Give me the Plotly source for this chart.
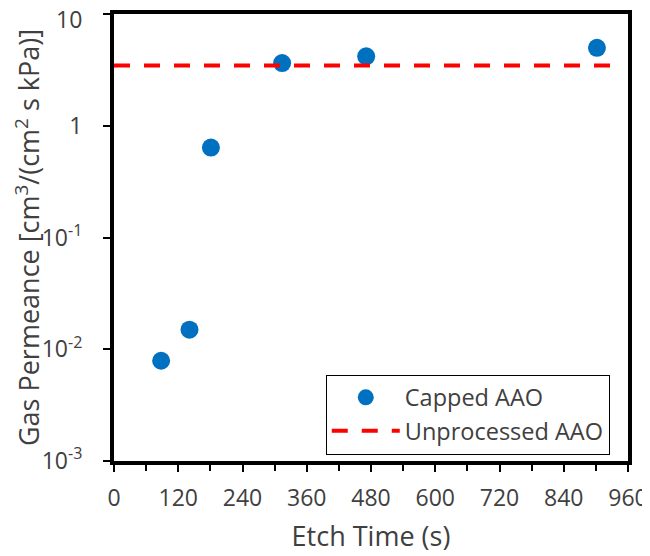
import plotly.graph_objects as go

etch_time = [88, 141, 181, 314, 471, 902]
permeance = [0.0079, 0.0150, 0.64, 3.65, 4.2, 5.0]
unprocessed_x = [0, 940]
unprocessed_y = [3.47, 3.47]

x_ticks = [0, 120, 240, 360, 480, 600, 720, 840, 960]
y_tickvals = [0.001, 0.01, 0.1, 1, 10]
y_ticktext = ["10<sup>-3</sup>", "10<sup>-2</sup>", "10<sup>-1</sup>", "1", "10"]

font_family = "Open Sans, sans-serif"
txt = "#404040"

fig = go.Figure()
fig.add_trace(go.Scatter(
    x=etch_time, y=permeance, mode="markers", name="Capped AAO",
    marker=dict(color="#0070C0", size=18, line=dict(width=0)),
))
fig.add_trace(go.Scatter(
    x=unprocessed_x, y=unprocessed_y, mode="lines", name="Unprocessed AAO",
    line=dict(color="#FF0000", width=4, dash="16px,14px"),
))

# top tick label would be clipped at the page edge: draw it as an annotation
# nudged slightly down, and leave the axis label for it empty
axis_ticktext = y_ticktext[:-1] + [""]
fig.add_annotation(
    x=0, xref="paper", xanchor="right", xshift=-30,
    y=1, yref="y", yanchor="middle", yshift=-5,
    text=y_ticktext[-1], showarrow=False,
    font=dict(family="Open Sans, sans-serif", size=23, color=txt),
)

# page body has an 8px default margin, so the figure is 8px smaller
fig.update_layout(
    width=642, height=548,
    margin=dict(l=106, r=22, t=6, b=95),
    paper_bgcolor="white", plot_bgcolor="white",
    font=dict(family=font_family, size=23, color=txt),
    showlegend=True,
    legend=dict(
        x=0.412, y=0.0145, xanchor="left", yanchor="bottom",
        bgcolor="white", bordercolor="black", borderwidth=1,
        font=dict(size=23.5, color=txt), tracegroupgap=0,
        itemwidth=68,
    ),
)
fig.update_xaxes(
    range=[0, 960], tickvals=x_ticks, automargin=False,
    title=dict(text="Etch Time (s)", font=dict(size=27, color=txt), standoff=17),
    showline=True, linecolor="black", linewidth=4, mirror=True,
    ticks="outside", ticklen=7, tickwidth=2, tickcolor="black",
    ticklabelstandoff=6, ticklabeloverflow="allow",
    minor=dict(dtick=60, tick0=0, ticks="outside", ticklen=6, tickwidth=2, tickcolor="black"),
    showgrid=False, zeroline=False,
)
fig.update_yaxes(
    type="log", range=[-3, 1.002], tickvals=y_tickvals, ticktext=axis_ticktext, automargin=False,
    title=dict(text="Gas Permeance [cm<sup>3</sup>/(cm<sup>2</sup> s kPa)]",
               font=dict(size=27, color=txt), standoff=4),
    showline=True, linecolor="black", linewidth=4, mirror=True,
    ticks="outside", ticklen=7, tickwidth=2, tickcolor="black",
    ticklabelstandoff=16, ticklabeloverflow="allow",
    showgrid=False, zeroline=False,
)

fig.write_html("out.html")
